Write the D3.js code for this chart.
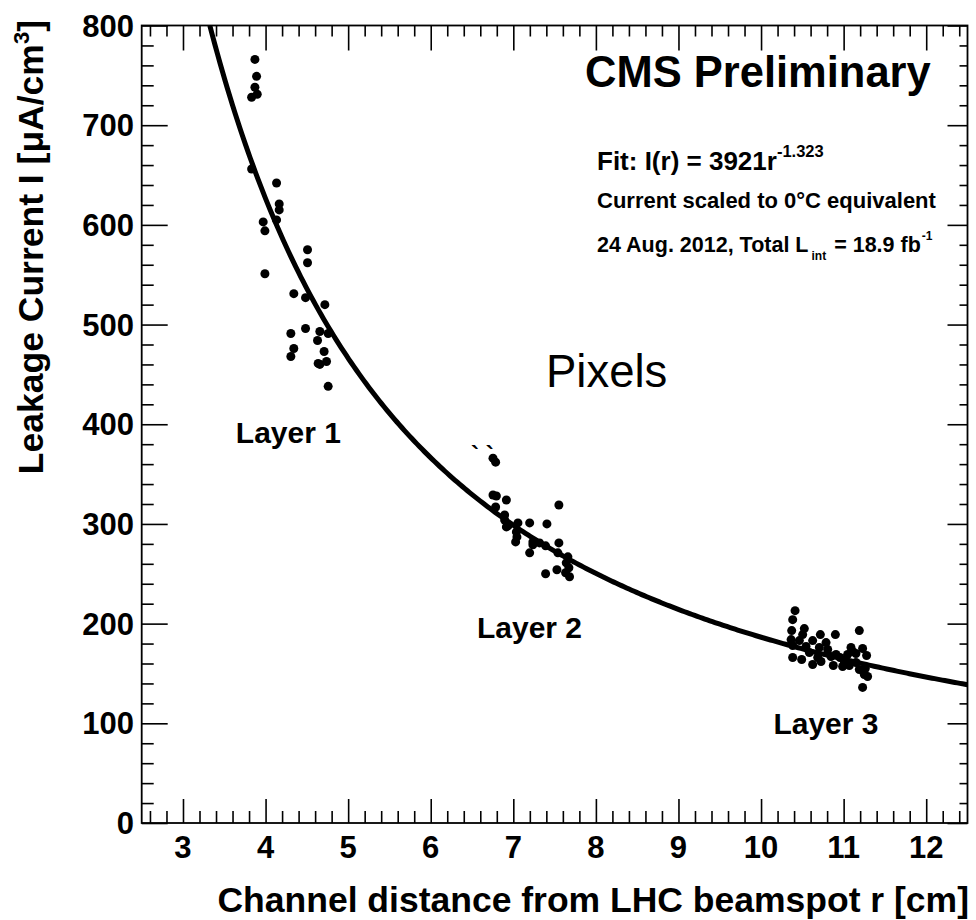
<!DOCTYPE html>
<html>
<head>
<meta charset="utf-8">
<script src="https://cdn.jsdelivr.net/npm/d3@7"></script>
<style>
  html, body { margin: 0; padding: 0; background: #fff; }
  svg { display: block; }
  text { font-family: "Liberation Sans", Arial, Helvetica, sans-serif; fill: #000; }
</style>
</head>
<body>
<svg id="chart" width="976" height="920"></svg>
<script>
// Measured pixel-module leakage current per channel, grouped by barrel layer
const layer1R = [3.871, 3.891, 3.871, 3.831, 3.899, 3.831, 4.133, 4.165, 4.165, 4.133,
                 3.971, 3.992, 3.992, 4.508, 4.508, 4.342, 4.484, 4.718, 4.306, 4.484,
                 4.657, 4.758, 4.629, 4.342, 4.306, 4.709, 4.637, 4.738, 4.657, 4.758];
const layer1I = [766, 749, 738, 728, 731, 656, 642, 621, 615, 605,
                 603, 594, 551, 575, 562, 531, 527, 520, 491, 496,
                 493, 491, 484, 476, 468, 473, 461, 463, 460, 438];

const layer2R = [6.754, 6.786, 6.754, 6.795, 6.916, 6.786, 7.552, 6.895, 6.895, 6.935,
                 7.056, 7.198, 7.407, 6.916, 7.037, 7.044, 7.028, 7.237, 7.237, 7.391,
                 7.552, 7.198, 7.540, 7.661, 7.641, 7.673, 7.528, 7.391, 7.633, 7.681,
                 7.318];
const layer2I = [366, 362, 329, 328, 324, 317, 319, 309, 304, 298,
                 301, 301, 300, 297, 292, 287, 282, 282, 279, 278,
                 281, 271, 271, 267, 261, 256, 254, 250, 251, 247,
                 281];

const layer3R = [10.412, 10.383, 10.371, 10.524, 10.504, 10.718, 10.900, 11.190, 10.364, 10.464,
                 10.625, 10.787, 10.383, 10.545, 10.706, 10.807, 11.089, 11.230, 10.585, 10.908,
                 11.048, 11.149, 11.278, 10.383, 10.492, 10.686, 10.625, 10.726, 10.875, 11.008,
                 11.069, 11.149, 11.190, 11.262, 11.290, 11.250, 11.230, 10.988, 11.109, 10.847,
                 10.956];
const layer3I = [213, 204, 193, 195, 189, 189, 189, 193, 184, 183,
                 183, 181, 178, 177, 176, 174, 176, 175, 171, 169,
                 169, 170, 168, 166, 164, 166, 159, 162, 158, 162,
                 158, 161, 154, 155, 147, 149, 136, 157, 172, 167,
                 166];

// Power-law fit parameters: I(r) = A * r^B
const fitA = 3921;
const fitB = -1.323;

const xMajorTicks = [3, 4, 5, 6, 7, 8, 9, 10, 11, 12];
const yMajorTicks = [0, 100, 200, 300, 400, 500, 600, 700, 800];

const layerLabels = ["Layer 1", "Layer 2", "Layer 3"];
const layerLabelR = [3.64, 6.56, 10.15];
const layerLabelI = [381, 186, 89];

const svg = d3.select("#chart");
const frameL = 141.7, frameR = 967.5, frameT = 25.5, frameB = 823;

const x = d3.scaleLinear().domain([2.5, 12.5]).range([frameL, frameR]);
const y = d3.scaleLinear().domain([0, 800]).range([frameB, frameT]);

// Minor tick positions (every 0.2 in r, every 20 in I)
const xMinor = d3.range(2.6, 12.5, 0.2).map(v => +v.toFixed(1)).filter(v => Math.abs(v - Math.round(v)) > 1e-6);
const yMinor = d3.range(20, 800, 20).filter(v => v % 100 !== 0);

function tickAxis(axisFn, scale, values, size, tx, ty) {
  const g = svg.append("g")
    .attr("transform", `translate(${tx},${ty})`)
    .call(axisFn(scale).tickValues(values).tickSizeInner(size).tickSizeOuter(0).tickFormat(""));
  g.select(".domain").remove();
  g.selectAll(".tick line").attr("stroke", "#000").attr("stroke-width", 1.6);
  return g;
}

// Ticks point inward on all four sides of the frame
tickAxis(d3.axisBottom, x, xMajorTicks, -24, 0, frameB);
tickAxis(d3.axisBottom, x, xMinor, -12, 0, frameB);
tickAxis(d3.axisTop, x, xMajorTicks, -25, 0, frameT);
tickAxis(d3.axisTop, x, xMinor, -11, 0, frameT);
tickAxis(d3.axisLeft, y, yMajorTicks, -26, frameL, 0);
tickAxis(d3.axisLeft, y, yMinor, -12, frameL, 0);
tickAxis(d3.axisRight, y, yMajorTicks, -20, frameR, 0);
tickAxis(d3.axisRight, y, yMinor, -8, frameR, 0);

// Frame
svg.append("rect")
  .attr("x", frameL).attr("y", frameT)
  .attr("width", frameR - frameL).attr("height", frameB - frameT)
  .attr("fill", "none").attr("stroke", "#000").attr("stroke-width", 1.8);

// Tick labels
svg.append("g").selectAll("text").data(xMajorTicks).join("text")
  .attr("x", d => x(d)).attr("y", 858)
  .attr("text-anchor", "middle")
  .attr("font-size", 31).attr("font-weight", "bold")
  .text(d => d);

svg.append("g").selectAll("text").data(yMajorTicks).join("text")
  .attr("x", 134).attr("y", d => y(d) + 11)
  .attr("text-anchor", "end")
  .attr("font-size", 31).attr("font-weight", "bold")
  .text(d => d);

// Axis titles
svg.append("text")
  .attr("x", 969).attr("y", 912)
  .attr("text-anchor", "end")
  .attr("font-size", 35.5).attr("font-weight", "bold")
  .text("Channel distance from LHC beamspot r [cm]");

const yTitle = svg.append("text")
  .attr("transform", "translate(43,20) rotate(-90)")
  .attr("text-anchor", "end")
  .attr("font-size", 35.5).attr("font-weight", "bold");
yTitle.append("tspan").text("Leakage Current I [\u03bcA/cm");
yTitle.append("tspan").attr("font-size", 22).attr("dy", -14).text("3");
yTitle.append("tspan").attr("dy", 14).text("]");

// Clip for the fit curve
svg.append("clipPath").attr("id", "frame-clip")
  .append("rect").attr("x", frameL).attr("y", frameT)
  .attr("width", frameR - frameL).attr("height", frameB - frameT);

// Fit curve
const rStart = Math.pow(800 / fitA, 1 / fitB);
const fitPts = d3.range(0, 301).map(i => {
  const r = rStart + (12.5 - rStart) * i / 300;
  return [r, fitA * Math.pow(r, fitB)];
});
svg.append("path")
  .attr("clip-path", "url(#frame-clip)")
  .attr("d", d3.line().x(d => x(d[0])).y(d => y(d[1]))(fitPts))
  .attr("fill", "none").attr("stroke", "#000").attr("stroke-width", 5);

// Data points
const layers = [[layer1R, layer1I], [layer2R, layer2I], [layer3R, layer3I]];
layers.forEach(([rs, is]) => {
  svg.append("g").selectAll("circle").data(rs.map((r, i) => [r, is[i]])).join("circle")
    .attr("cx", d => x(d[0])).attr("cy", d => y(d[1]))
    .attr("r", 4.5).attr("fill", "#000");
});

// Layer labels
svg.append("g").selectAll("text").data(layerLabels).join("text")
  .attr("x", (d, i) => x(layerLabelR[i]))
  .attr("y", (d, i) => y(layerLabelI[i]))
  .attr("font-size", 30).attr("font-weight", "bold")
  .text(d => d);

// Stray marks above layer 2
svg.append("text")
  .attr("x", 471).attr("y", 463)
  .attr("font-size", 24).attr("font-weight", "bold")
  .text("` `");

svg.append("text")
  .attr("x", 546).attr("y", 387)
  .attr("font-size", 45.5)
  .text("Pixels");

// Header and fit annotations
svg.append("text")
  .attr("x", 585).attr("y", 87)
  .attr("font-size", 43.5).attr("font-weight", "bold")
  .text("CMS Preliminary");

const fitText = svg.append("text")
  .attr("x", 597).attr("y", 170)
  .attr("font-size", 26).attr("font-weight", "bold");
fitText.append("tspan").text(`Fit: I(r) = ${fitA}r`);
fitText.append("tspan").attr("font-size", 16.5).attr("dy", -13).text(fitB.toFixed(3));

svg.append("text")
  .attr("x", 597).attr("y", 208)
  .attr("font-size", 22).attr("font-weight", "bold")
  .text("Current scaled to 0\u00b0C equivalent");

const lumiText = svg.append("text")
  .attr("x", 597).attr("y", 252)
  .attr("font-size", 21.5).attr("font-weight", "bold");
lumiText.append("tspan").text("24 Aug. 2012, Total L");
lumiText.append("tspan").attr("font-size", 12).attr("dy", 8).attr("dx", 3).text("int");
lumiText.append("tspan").attr("dy", -8).attr("dx", 8).text("= 18.9 fb");
lumiText.append("tspan").attr("font-size", 12).attr("dy", -12).attr("dx", 1).text("-1");
</script>
</body>
</html>
